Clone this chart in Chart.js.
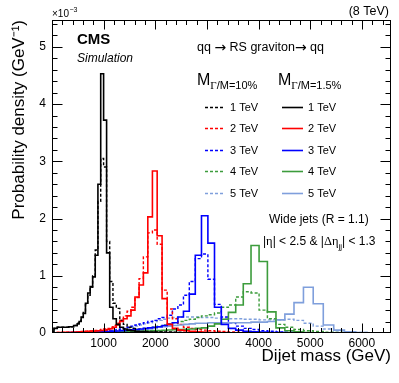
<!DOCTYPE html>
<html>
<head>
<meta charset="utf-8">
<script src="https://cdn.jsdelivr.net/npm/chart.js@4.4.0/dist/chart.umd.min.js"></script>
<style>
  html, body { margin: 0; padding: 0; background: #fff; }
</style>
</head>
<body>
<canvas id="massChart" width="399" height="383"></canvas>
<script>
// dijet mass bin edges (GeV)
const binEdges = [1, 40, 103, 176, 244, 325, 419, 489, 526, 565, 606, 649, 693, 740, 788, 838, 890, 944, 1000, 1058,
  1118, 1181, 1246, 1313, 1383, 1455, 1530, 1607, 1687, 1770, 1856, 1945, 2037, 2132, 2231, 2332, 2438, 2546, 2659, 2775,
  2895, 3019, 3147, 3279, 3416, 3558, 3704, 3854, 4010, 4171, 4337, 4509, 4686, 4869, 5058, 5253, 5455, 5663, 5877, 6099,
  6328, 6564];

// probability density per bin, in units of 1e-3 / GeV
// narrow = Gamma/M = 1.5% (solid), wide = Gamma/M = 10% (dashed)
const narrow1 = [0.03, 0.08, 0.1, 0.1, 0.1, 0.11, 0.13, 0.16, 0.2, 0.27, 0.34, 0.52, 0.7, 0.81, 0.98, 1.36, 2.6, 4.53, 3.72, 1.4,
  0.45, 0.25, 0.15, 0.1, 0.07, 0.05, 0.04, 0.03, 0.025, 0.02, 0.018, 0.015, 0.012, 0.01, 0.008, 0.006, 0.005, 0.004, 0.003, 0.002,
  0.002, 0.001, 0, 0, 0, 0, 0, 0, 0, 0, 0, 0, 0, 0, 0, 0, 0, 0, 0, 0, 0];
const wide1 = [0.03, 0.08, 0.1, 0.1, 0.1, 0.11, 0.13, 0.17, 0.21, 0.28, 0.36, 0.5, 0.66, 0.8, 1.0, 1.45, 2.3, 3.05, 2.9, 1.6,
  0.9, 0.52, 0.43, 0.22, 0.15, 0.1, 0.08, 0.06, 0.05, 0.04, 0.035, 0.03, 0.025, 0.02, 0.018, 0.015, 0.012, 0.01, 0.008, 0.006,
  0.005, 0.004, 0.003, 0.002, 0.002, 0.001, 0, 0, 0, 0, 0, 0, 0, 0, 0, 0, 0, 0, 0, 0, 0];
const narrow2 = [0, 0.005, 0.01, 0.01, 0.012, 0.014, 0.016, 0.018, 0.02, 0.022, 0.024, 0.026, 0.028, 0.03, 0.033, 0.036, 0.04, 0.044, 0.05, 0.06,
  0.075, 0.1, 0.14, 0.2, 0.25, 0.3, 0.4, 0.63, 0.84, 1.05, 2.03, 2.83, 1.7, 0.6, 0.15, 0.08, 0.05, 0.04, 0.03, 0.02,
  0.015, 0.01, 0.008, 0.006, 0.004, 0.003, 0.002, 0.001, 0, 0, 0, 0, 0, 0, 0, 0, 0, 0, 0, 0, 0];
const wide2 = [0, 0.005, 0.01, 0.012, 0.014, 0.016, 0.018, 0.02, 0.022, 0.025, 0.028, 0.03, 0.033, 0.036, 0.04, 0.045, 0.05, 0.06, 0.07, 0.08,
  0.1, 0.13, 0.17, 0.22, 0.3, 0.38, 0.45, 0.62, 0.95, 1.33, 1.75, 1.8, 1.55, 0.75, 0.42, 0.25, 0.15, 0.1, 0.08, 0.06,
  0.05, 0.04, 0.03, 0.025, 0.02, 0.015, 0.01, 0.008, 0.006, 0.004, 0.003, 0.002, 0.001, 0, 0, 0, 0, 0, 0, 0, 0];
const narrow3 = [0, 0, 0.003, 0.004, 0.005, 0.006, 0.007, 0.008, 0.009, 0.01, 0.011, 0.012, 0.013, 0.014, 0.015, 0.016, 0.018, 0.02, 0.022, 0.025,
  0.028, 0.032, 0.036, 0.04, 0.045, 0.05, 0.056, 0.062, 0.07, 0.08, 0.09, 0.1, 0.11, 0.13, 0.15, 0.18, 0.28, 0.38, 0.68, 1.36,
  2.05, 1.57, 0.45, 0.15, 0.08, 0.05, 0.03, 0.02, 0.015, 0.01, 0.007, 0.005, 0.003, 0.002, 0, 0, 0, 0, 0, 0, 0];
const wide3 = [0, 0.002, 0.004, 0.005, 0.006, 0.007, 0.008, 0.009, 0.01, 0.011, 0.012, 0.014, 0.016, 0.018, 0.02, 0.023, 0.026, 0.03, 0.035, 0.04,
  0.045, 0.05, 0.06, 0.07, 0.08, 0.1, 0.12, 0.14, 0.16, 0.18, 0.2, 0.22, 0.25, 0.27, 0.31, 0.42, 0.49, 0.66, 0.9, 1.3,
  1.38, 0.94, 0.5, 0.28, 0.18, 0.12, 0.08, 0.06, 0.04, 0.03, 0.02, 0.015, 0.01, 0.007, 0.005, 0.003, 0.002, 0, 0, 0, 0];
const narrow4 = [0, 0, 0.002, 0.002, 0.003, 0.003, 0.004, 0.004, 0.005, 0.005, 0.006, 0.006, 0.007, 0.008, 0.009, 0.01, 0.011, 0.012, 0.013, 0.014,
  0.015, 0.016, 0.018, 0.02, 0.022, 0.024, 0.026, 0.028, 0.03, 0.033, 0.036, 0.04, 0.044, 0.048, 0.052, 0.056, 0.06, 0.065, 0.07, 0.08,
  0.09, 0.12, 0.16, 0.24, 0.36, 0.49, 0.86, 1.53, 1.25, 0.37, 0.09, 0.04, 0.02, 0.01, 0.005, 0.003, 0.002, 0, 0, 0, 0];
const wide4 = [0, 0, 0.002, 0.003, 0.003, 0.004, 0.005, 0.005, 0.006, 0.007, 0.008, 0.009, 0.01, 0.011, 0.012, 0.014, 0.016, 0.018, 0.02, 0.022,
  0.025, 0.028, 0.032, 0.036, 0.04, 0.045, 0.05, 0.06, 0.07, 0.08, 0.09, 0.1, 0.12, 0.14, 0.16, 0.18, 0.2, 0.22, 0.24, 0.27,
  0.3, 0.32, 0.35, 0.45, 0.49, 0.63, 0.72, 0.7, 0.4, 0.25, 0.15, 0.1, 0.06, 0.04, 0.025, 0.015, 0.01, 0.006, 0.004, 0.002, 0.001];
const narrow5 = [0, 0, 0.002, 0.003, 0.004, 0.005, 0.006, 0.007, 0.008, 0.009, 0.01, 0.011, 0.012, 0.013, 0.014, 0.015, 0.016, 0.018, 0.02, 0.022,
  0.024, 0.026, 0.028, 0.03, 0.033, 0.036, 0.04, 0.045, 0.05, 0.06, 0.07, 0.08, 0.1, 0.11, 0.12, 0.13, 0.14, 0.15, 0.16, 0.17,
  0.17, 0.18, 0.18, 0.18, 0.18, 0.18, 0.18, 0.19, 0.19, 0.2, 0.23, 0.33, 0.53, 0.8, 0.51, 0.14, 0.05, 0.02, 0.01, 0.005, 0.002];
const wide5 = [0, 0, 0.003, 0.004, 0.005, 0.006, 0.007, 0.008, 0.009, 0.01, 0.012, 0.014, 0.016, 0.018, 0.02, 0.022, 0.025, 0.028, 0.032, 0.036,
  0.04, 0.045, 0.05, 0.06, 0.07, 0.08, 0.1, 0.12, 0.14, 0.16, 0.18, 0.2, 0.22, 0.24, 0.26, 0.27, 0.28, 0.28, 0.28, 0.28,
  0.27, 0.27, 0.26, 0.26, 0.25, 0.25, 0.24, 0.24, 0.23, 0.23, 0.23, 0.24, 0.22, 0.17, 0.12, 0.07, 0.04, 0.02, 0.01, 0.005, 0.002];

const massLabels = ['1 TeV', '2 TeV', '3 TeV', '4 TeV', '5 TeV'];
const xTickValues = [1000, 2000, 3000, 4000, 5000, 6000];
const yTickValues = [0, 1, 2, 3, 4, 5];

const narrowSets = [narrow1, narrow2, narrow3, narrow4, narrow5];
const wideSets = [wide1, wide2, wide3, wide4, wide5];
const colors = ['#000000', '#ff0000', '#0000ff', '#3c9c3c', '#7f9fdc'];

const sans = '"Liberation Sans", Arial, Helvetica, sans-serif';
const serif = '"Liberation Serif", "Times New Roman", serif';
const dash = [3, 2];

// histogram outline: one point per bin edge, drawn as steps
function histPoints(values) {
  const pts = [{x: binEdges[0], y: 0}];
  values.forEach((v, i) => pts.push({x: binEdges[i], y: v}));
  const last = binEdges[values.length];
  pts.push({x: last, y: values[values.length - 1]});
  pts.push({x: last, y: 0});
  return pts;
}

const datasets = [];
narrowSets.forEach((vals, i) => {
  datasets.push({
    label: massLabels[i] + ' narrow',
    data: histPoints(vals),
    stepped: 'before',
    borderColor: colors[i],
    borderWidth: 1.6,
    pointRadius: 0,
    fill: false
  });
});
wideSets.forEach((vals, i) => {
  datasets.push({
    label: massLabels[i] + ' wide',
    data: histPoints(vals),
    stepped: 'before',
    borderColor: colors[i],
    borderWidth: 1.4,
    borderDash: dash,
    pointRadius: 0,
    fill: false
  });
});

// draws a run of text pieces [text, font] left to right
function drawRun(ctx, x0, yBase, pieces) {
  let cx = x0;
  pieces.forEach(([t, f, dy]) => {
    ctx.font = f;
    ctx.fillText(t, cx, yBase + (dy || 0));
    cx += ctx.measureText(t).width;
  });
}

// frame, inward ticks and text annotations
const decor = {
  id: 'decor',
  afterDraw(chart) {
    const {ctx, chartArea: a, scales: {x, y}} = chart;
    ctx.save();
    const L = Math.round(a.left) + 0.5, R = Math.round(a.right) - 0.5;
    const T = Math.round(a.top) + 0.5, B = Math.round(a.bottom) - 0.5;
    ctx.strokeStyle = '#000';
    ctx.lineWidth = 1;
    ctx.setLineDash([]);
    ctx.strokeRect(L, T, R - L, B - T);

    ctx.beginPath();
    for (let v = 200; v < 6564; v += 200) {
      const px = Math.round(x.getPixelForValue(v)) + 0.5;
      const len = v % 1000 === 0 ? 9 : 4.5;
      ctx.moveTo(px, B); ctx.lineTo(px, B - len);
      ctx.moveTo(px, T); ctx.lineTo(px, T + len);
    }
    for (let k = 1; k <= 27; k++) {
      const v = k * 0.2;
      const py = Math.round(y.getPixelForValue(v)) + 0.5;
      const len = k % 5 === 0 ? 10 : 5;
      ctx.moveTo(L, py); ctx.lineTo(L + len, py);
      ctx.moveTo(R, py); ctx.lineTo(R - len, py);
    }
    ctx.stroke();

    ctx.fillStyle = '#000';
    ctx.textBaseline = 'alphabetic';
    ctx.textAlign = 'left';

    // exponent
    ctx.font = '10px ' + sans;
    ctx.fillText('×10', 52, 17);
    ctx.font = '7px ' + sans;
    ctx.fillText('−3', 52 + 17.5, 12);

    ctx.font = '12.5px ' + sans;
    ctx.textAlign = 'right';
    ctx.fillText('(8 TeV)', 389, 15);
    ctx.textAlign = 'left';

    ctx.font = 'bold 15px ' + sans;
    ctx.fillText('CMS', 77, 44);
    ctx.font = 'italic 12px ' + sans;
    ctx.fillText('Simulation', 77, 62);

    const arrowFont = '14px "DejaVu Sans", sans-serif';
    const txtFont = '12.5px ' + sans;
    drawRun(ctx, 197, 51, [['qq ', txtFont], ['→', arrowFont, 0.5], [' RS graviton', txtFont],
      ['→', arrowFont, 0.5], [' qq', txtFont]]);

    // legend headers
    function header(x0, sub) {
      drawRun(ctx, x0, 85, [['M', '16px ' + sans]]);
      const mw = ctx.measureText('M').width;
      drawRun(ctx, x0 + mw, 89, [['Γ', '11px ' + serif], [sub, '11px ' + sans]]);
    }
    header(197, '/M=10%');
    header(278, '/M=1.5%');

    // legend rows
    ctx.textBaseline = 'middle';
    massLabels.forEach((lab, i) => {
      const ry = Math.round(107 + i * 21.4) + 0.5;
      ctx.strokeStyle = colors[i];
      ctx.lineWidth = 1.4;
      ctx.setLineDash(dash);
      ctx.beginPath(); ctx.moveTo(205, ry); ctx.lineTo(225, ry); ctx.stroke();
      ctx.lineWidth = 1.6;
      ctx.setLineDash([]);
      ctx.beginPath(); ctx.moveTo(282, ry); ctx.lineTo(303, ry); ctx.stroke();
      ctx.font = '11px ' + sans;
      ctx.fillText(lab, 230, ry);
      ctx.fillText(lab, 308, ry);
    });

    // selection text
    ctx.textBaseline = 'alphabetic';
    ctx.font = '12px ' + sans;
    ctx.fillText('Wide jets (R = 1.1)', 269, 223);
    const s12 = '12px ' + sans, g12 = '12.5px ' + serif;
    drawRun(ctx, 263, 245, [['|', s12], ['η', g12], ['| < 2.5 & |', s12], ['Δη', g12],
      ['jj', '8px ' + sans, 4], ['| < 1.3', s12]]);
    ctx.restore();
  }
};

new Chart(document.getElementById('massChart'), {
  type: 'line',
  data: {datasets: datasets},
  options: {
    responsive: false,
    animation: false,
    layout: {padding: {left: 0, right: 8, top: 20, bottom: 0}},
    plugins: {legend: {display: false}, tooltip: {enabled: false}},
    scales: {
      x: {
        type: 'linear',
        min: 1,
        max: 6564,
        grid: {display: false, drawTicks: false},
        border: {display: false},
        afterFit: s => { s.height = 50; },
        afterBuildTicks: s => { s.ticks = xTickValues.map(v => ({value: v})); },
        ticks: {autoSkip: false, maxRotation: 0, padding: 3, color: '#000', font: {family: sans, size: 12},
          callback: v => String(v)},
        title: {display: true, text: 'Dijet mass (GeV)', align: 'end', color: '#000',
          font: {family: sans, size: 17}, padding: {top: 0, bottom: 16}}
      },
      y: {
        min: 0,
        max: 5.47,
        grid: {display: false, drawTicks: false},
        border: {display: false},
        afterFit: s => { s.width = 52; },
        afterBuildTicks: s => { s.ticks = yTickValues.map(v => ({value: v})); },
        ticks: {padding: 6, color: '#000', font: {family: sans, size: 12}, callback: v => String(v)},
        title: {display: true, text: 'Probability density (GeV⁻¹)', align: 'end', color: '#000',
          font: {family: sans, size: 17}, padding: {top: 9, bottom: 0}}
      }
    }
  },
  plugins: [decor]
});
</script>
</body>
</html>
